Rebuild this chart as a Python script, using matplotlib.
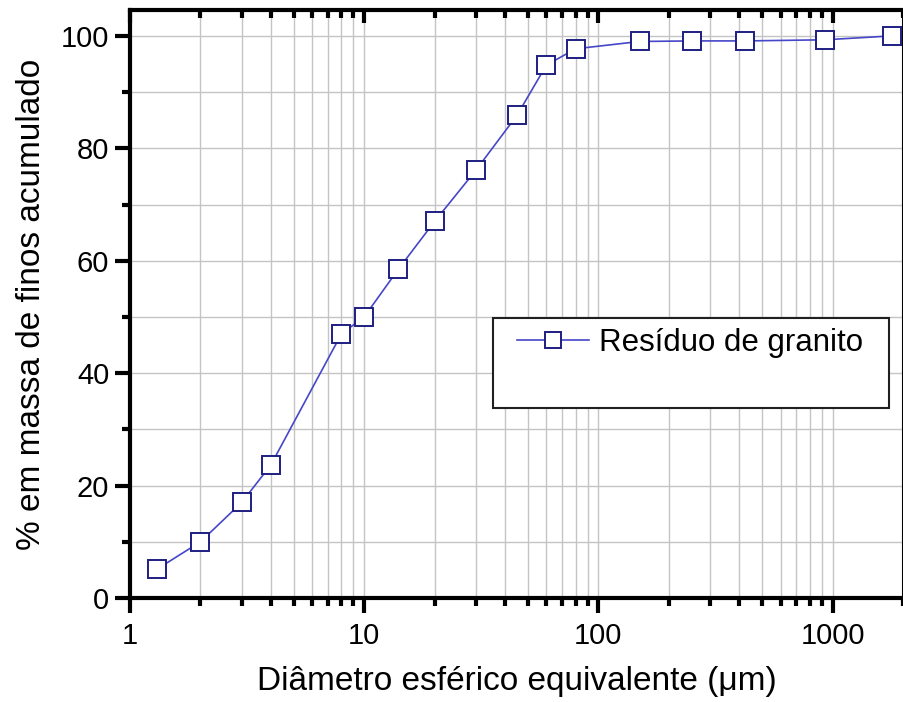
import matplotlib.pyplot as plt
from matplotlib.patches import Rectangle
from matplotlib.ticker import LogLocator, MultipleLocator, FixedLocator, NullFormatter

# Cumulative fines distribution
diametro = [1.3, 2, 3, 4, 8, 10, 14, 20, 30, 45, 60, 80, 150, 250, 425, 930, 1800]
acumulado = [5.1, 10.0, 17.0, 23.7, 47.0, 50.0, 58.5, 67.0, 76.1, 85.9, 94.8, 97.7,
             99.0, 99.1, 99.1, 99.3, 100.0]
x_ticks = [1, 10, 100, 1000]
x_tick_labels = ['1', '10', '100', '1000']
serie_label = 'Resíduo de granito'

plt.rcParams['font.family'] = ['Liberation Sans', 'DejaVu Sans']

fig = plt.figure(figsize=(9.04, 7.02), dpi=100)
W, H = 904, 702
ax = fig.add_axes([130 / W, 104 / H, (903 - 130) / W, (598 - 10) / H])

ax.set_xscale('log')
ax.set_xlim(1, 2000)
ax.set_ylim(0, 104.6)

# grid
ax.xaxis.set_major_locator(FixedLocator(x_ticks))
ax.set_xticklabels(x_tick_labels)
ax.xaxis.set_minor_locator(LogLocator(base=10, subs=range(2, 10), numticks=20))
ax.xaxis.set_minor_formatter(NullFormatter())
ax.yaxis.set_major_locator(MultipleLocator(20))
ax.yaxis.set_minor_locator(MultipleLocator(10))
ax.grid(True, which='both', color='#c4c4c4', linewidth=1.0)
ax.set_axisbelow(True)

ax.plot(diametro, acumulado, color='#4646c8', linewidth=1.2, marker='s',
        markersize=12.5, markerfacecolor='white', markeredgecolor='#1e1e82',
        markeredgewidth=1.4, label=serie_label, zorder=3, clip_on=False)

for side in ['left', 'bottom', 'top']:
    ax.spines[side].set_linewidth(3)
ax.spines['right'].set_linewidth(1.5)

ax.tick_params(axis='both', which='major', labelsize=21, width=3, color='black')
ax.tick_params(axis='x', which='major', direction='out', length=11, pad=6)
ax.tick_params(axis='x', which='minor', direction='out', length=6, width=3)
ax.tick_params(axis='y', which='major', direction='out', length=11, pad=4)
ax.tick_params(axis='y', which='minor', direction='out', length=6, width=3)
ax.tick_params(top=False, right=False, which='both')

# top axis ticks point inwards
top = ax.twiny()
top.set_xscale('log')
top.set_xlim(ax.get_xlim())
top.xaxis.set_major_locator(FixedLocator(x_ticks))
top.xaxis.set_minor_locator(LogLocator(base=10, subs=range(2, 10), numticks=20))
top.xaxis.set_major_formatter(NullFormatter())
top.xaxis.set_minor_formatter(NullFormatter())
top.tick_params(axis='x', which='major', direction='in', length=9, width=3)
top.tick_params(axis='x', which='minor', direction='in', length=6, width=3)

ax.set_xlabel('Diâmetro esférico equivalente (\u03bcm)', fontsize=24, labelpad=12)
ax.set_ylabel('% em massa de finos acumulado', fontsize=24, labelpad=10)

# legend box (Origin style, text in upper part)
ax.add_patch(Rectangle((0.469, 0.323), 0.513, 0.153, transform=ax.transAxes,
                       facecolor='white', edgecolor='#202020', linewidth=1.5, zorder=4))
leg = ax.legend(loc='center left', bbox_to_anchor=(0.501, 0.434), frameon=False,
                fontsize=22.5, handlelength=2.3, handletextpad=0.3, markerscale=0.9,
                borderpad=0, borderaxespad=0)
leg.set_zorder(5)

fig.savefig('out.png', dpi=100)
